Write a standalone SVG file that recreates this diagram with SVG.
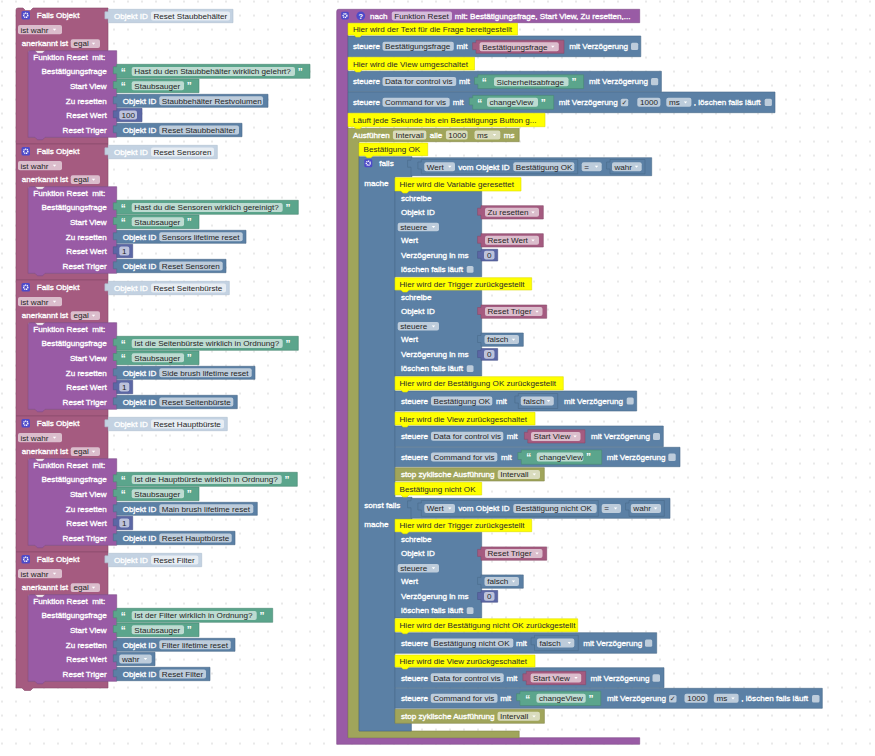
<svg xmlns="http://www.w3.org/2000/svg" xmlns:xlink="http://www.w3.org/1999/xlink" width="875" height="756" viewBox="0 0 875 756">
<defs>
<pattern id="dots" x="-5" y="-5.5" width="14" height="14" patternUnits="userSpaceOnUse"><circle cx="7" cy="7" r="0.85" fill="#d2d2d2"/></pattern>
<path id="ar" d="M-1.7,-0.9 h3.4 l-1.7,2 z" fill="#fff"/>
<style>
.t{font-family:"Liberation Sans",Arial,sans-serif;font-size:8.1px;fill:#fff;stroke:#fff;stroke-width:.32}
.d{font-family:"Liberation Sans",Arial,sans-serif;font-size:8.1px;fill:#1f1f1f}
.m{font-family:"Liberation Sans",Arial,sans-serif;font-size:8.1px;fill:#2a2a2a}
.q{font-family:"Liberation Sans",Arial,sans-serif;font-size:10px;font-weight:bold;fill:#fff}
.ck{font-family:"DejaVu Sans",sans-serif;font-size:7px;fill:#333}
.b{fill:#5b80a5;stroke:#4a6a8a;stroke-width:.6}
.n{fill:#5b67a5;stroke:#4a548a;stroke-width:.6}
.g{fill:#5ba58c;stroke:#4a8872;stroke-width:.6}
.k{fill:#a55b80;stroke:#884a69;stroke-width:.6}
.u{fill:#995ba5;stroke:#7d4a88;stroke-width:.6}
.o{fill:#a0a55b;stroke:#84884a;stroke-width:.6}
.c{fill:#ffff00;stroke:#dede00;stroke-width:.6}
.p{fill:#c3d2e2;stroke:#aebfd0;stroke-width:.6}
.f{fill:#fff;fill-opacity:.6}
.i{fill:#4d4ac9}
.gear{fill:none;stroke:#fff;stroke-width:1.4;stroke-dasharray:1.1 .55}
</style>
</defs>
<rect width="875" height="756" fill="#fff"/>
<rect width="875" height="756" fill="url(#dots)"/>

<!-- LEFT COLUMN: trigger blocks -->
<g id="falls-objekt-staubbehaelter">
<path class="k" d="M16,10 q0,-2 2,-2 H23 l2.5,2.5 h5 l2.5,-2.5 H108 V50.7 H28.3 V137.3 H108 V144 H16 Z"/>
<rect class="i" x="21.5" y="11" width="8.5" height="8.5" rx="1.5"/><circle class="gear" cx="25.75" cy="15.25" r="2.1"/>
<text class="t" x="36.7" y="18.3">Falls Objekt</text>
<path class="p" d="M108.3,9.3 H233 V22.7 H108.3 V18.8 h-3.4 v-7 h3.4 Z"/>
<text class="t" x="114" y="18.9">Objekt ID</text>
<rect class="f" x="151" y="11.5" width="79" height="9" rx="2"/><text class="d" x="153.4" y="18.9">Reset Staubbehälter</text>
<rect class="f" x="18" y="25" width="44" height="9.3" rx="2"/><text class="d" x="20.5" y="32.5">ist wahr</text><use href="#ar" x="54.5" y="29.7"/>
<text class="t" x="21.7" y="46.3">anerkannt ist</text>
<rect class="f" x="70.7" y="39.3" width="29.3" height="8.6" rx="2"/><text class="d" x="73.5" y="46.3">egal</text><use href="#ar" x="93.5" y="43.6"/>
<path class="u" d="M28.3,52.7 q0,-2 2,-2 H35 l2.5,2.5 h5 l2.5,-2.5 H116.7 V137.3 H45 l-2.5,2.5 h-5 l-2.5,-2.5 H28.3 Z"/>
<text class="t" x="33.3" y="60.3" style="white-space:pre">Funktion Reset  mit:</text>
<g text-anchor="end"><text class="t" x="106.7" y="74.4">Bestätigungsfrage</text><text class="t" x="106.7" y="88.7">Start View</text><text class="t" x="106.7" y="103.7">Zu resetten</text><text class="t" x="106.7" y="117.9">Reset Wert</text><text class="t" x="106.7" y="132.9">Reset Triger</text></g>
<path class="g" d="M116.7,64.3 H310 V78.3 H116.7 V73.8 h-3.4 v-7 h3.4 Z"/>
<text class="q" x="120.8" y="75.6">“</text><rect class="f" x="131.7" y="67" width="163.3" height="9" rx="2"/><text class="d" x="134.3" y="74.4">Hast du den Staubbehälter wirklich gelehrt?</text><text class="q" x="297.8" y="75.6">”</text>
<path class="g" d="M116.7,79 H199 V92.7 H116.7 V88.5 h-3.4 v-7 h3.4 Z"/>
<text class="q" x="120.8" y="89.9">“</text><rect class="f" x="131.7" y="81.3" width="52.3" height="9" rx="2"/><text class="d" x="134.3" y="88.7">Staubsauger</text><text class="q" x="186.8" y="89.9">”</text>
<path class="b" d="M116.7,94.3 H268 V107.3 H116.7 V103.8 h-3.4 v-7 h3.4 Z"/>
<text class="t" x="122.7" y="103.7">Objekt ID</text><rect class="f" x="159.3" y="96.3" width="103.7" height="9" rx="2"/><text class="d" x="161.8" y="103.7">Staubbehälter Restvolumen</text>
<path class="n" d="M116.7,108.3 H142 V121.7 H116.7 V117.8 h-3.4 v-7 h3.4 Z"/>
<rect class="f" x="119.3" y="110.5" width="17.7" height="9" rx="2"/><text class="d" x="121.6" y="117.9">100</text>
<path class="b" d="M116.7,123.3 H242 V136.7 H116.7 V132.8 h-3.4 v-7 h3.4 Z"/>
<text class="t" x="122.7" y="132.9">Objekt ID</text><rect class="f" x="159.3" y="125.5" width="79.7" height="9" rx="2"/><text class="d" x="161.8" y="132.9">Reset Staubbehälter</text>
</g>

<g id="falls-objekt-sensoren" transform="translate(0,136)">
<path class="k" d="M16,8 H108 V50.7 H28.3 V137.3 H108 V144 H16 Z"/>
<rect class="i" x="21.5" y="11" width="8.5" height="8.5" rx="1.5"/><circle class="gear" cx="25.75" cy="15.25" r="2.1"/>
<text class="t" x="36.7" y="18.3">Falls Objekt</text>
<path class="p" d="M108.3,9.3 H217.3 V22.7 H108.3 V18.8 h-3.4 v-7 h3.4 Z"/>
<text class="t" x="114" y="18.9">Objekt ID</text>
<rect class="f" x="151" y="11.5" width="63" height="9" rx="2"/><text class="d" x="153.4" y="18.9">Reset Sensoren</text>
<rect class="f" x="18" y="25" width="44" height="9.3" rx="2"/><text class="d" x="20.5" y="32.5">ist wahr</text><use href="#ar" x="54.5" y="29.7"/>
<text class="t" x="21.7" y="46.3">anerkannt ist</text>
<rect class="f" x="70.7" y="39.3" width="29.3" height="8.6" rx="2"/><text class="d" x="73.5" y="46.3">egal</text><use href="#ar" x="93.5" y="43.6"/>
<path class="u" d="M28.3,52.7 q0,-2 2,-2 H35 l2.5,2.5 h5 l2.5,-2.5 H116.7 V137.3 H45 l-2.5,2.5 h-5 l-2.5,-2.5 H28.3 Z"/>
<text class="t" x="33.3" y="60.3" style="white-space:pre">Funktion Reset  mit:</text>
<g text-anchor="end"><text class="t" x="106.7" y="74.4">Bestätigungsfrage</text><text class="t" x="106.7" y="88.7">Start View</text><text class="t" x="106.7" y="103.7">Zu resetten</text><text class="t" x="106.7" y="117.9">Reset Wert</text><text class="t" x="106.7" y="132.9">Reset Triger</text></g>
<path class="g" d="M116.7,64.3 H298.3 V78.3 H116.7 V73.8 h-3.4 v-7 h3.4 Z"/>
<text class="q" x="120.8" y="75.6">“</text><rect class="f" x="131.7" y="67" width="151" height="9" rx="2"/><text class="d" x="134.3" y="74.4">Hast du die Sensoren wirklich gereinigt?</text><text class="q" x="285.5" y="75.6">”</text>
<path class="g" d="M116.7,79 H199 V92.7 H116.7 V88.5 h-3.4 v-7 h3.4 Z"/>
<text class="q" x="120.8" y="89.9">“</text><rect class="f" x="131.7" y="81.3" width="52.3" height="9" rx="2"/><text class="d" x="134.3" y="88.7">Staubsauger</text><text class="q" x="186.8" y="89.9">”</text>
<path class="b" d="M116.7,94.3 H246 V107.3 H116.7 V103.8 h-3.4 v-7 h3.4 Z"/>
<text class="t" x="122.7" y="103.7">Objekt ID</text><rect class="f" x="159.3" y="96.3" width="83.4" height="9" rx="2"/><text class="d" x="161.8" y="103.7">Sensors lifetime reset</text>
<path class="n" d="M116.7,108.3 H132.7 V121.7 H116.7 V117.8 h-3.4 v-7 h3.4 Z"/>
<rect class="f" x="119.3" y="110.5" width="10" height="9" rx="2"/><text class="d" x="122" y="117.9">1</text>
<path class="b" d="M116.7,123.3 H226 V136.7 H116.7 V132.8 h-3.4 v-7 h3.4 Z"/>
<text class="t" x="122.7" y="132.9">Objekt ID</text><rect class="f" x="159.3" y="125.5" width="63.4" height="9" rx="2"/><text class="d" x="161.8" y="132.9">Reset Sensoren</text>
</g>

<g id="falls-objekt-seitenbuerste" transform="translate(0,272)">
<path class="k" d="M16,8 H108 V50.7 H28.3 V137.3 H108 V144 H16 Z"/>
<rect class="i" x="21.5" y="11" width="8.5" height="8.5" rx="1.5"/><circle class="gear" cx="25.75" cy="15.25" r="2.1"/>
<text class="t" x="36.7" y="18.3">Falls Objekt</text>
<path class="p" d="M108.3,9.3 H229.3 V22.7 H108.3 V18.8 h-3.4 v-7 h3.4 Z"/>
<text class="t" x="114" y="18.9">Objekt ID</text>
<rect class="f" x="151" y="11.5" width="75" height="9" rx="2"/><text class="d" x="153.4" y="18.9">Reset Seitenbürste</text>
<rect class="f" x="18" y="25" width="44" height="9.3" rx="2"/><text class="d" x="20.5" y="32.5">ist wahr</text><use href="#ar" x="54.5" y="29.7"/>
<text class="t" x="21.7" y="46.3">anerkannt ist</text>
<rect class="f" x="70.7" y="39.3" width="29.3" height="8.6" rx="2"/><text class="d" x="73.5" y="46.3">egal</text><use href="#ar" x="93.5" y="43.6"/>
<path class="u" d="M28.3,52.7 q0,-2 2,-2 H35 l2.5,2.5 h5 l2.5,-2.5 H116.7 V137.3 H45 l-2.5,2.5 h-5 l-2.5,-2.5 H28.3 Z"/>
<text class="t" x="33.3" y="60.3" style="white-space:pre">Funktion Reset  mit:</text>
<g text-anchor="end"><text class="t" x="106.7" y="74.4">Bestätigungsfrage</text><text class="t" x="106.7" y="88.7">Start View</text><text class="t" x="106.7" y="103.7">Zu resetten</text><text class="t" x="106.7" y="117.9">Reset Wert</text><text class="t" x="106.7" y="132.9">Reset Triger</text></g>
<path class="g" d="M116.7,64.3 H298.3 V78.3 H116.7 V73.8 h-3.4 v-7 h3.4 Z"/>
<text class="q" x="120.8" y="75.6">“</text><rect class="f" x="131.7" y="67" width="151" height="9" rx="2"/><text class="d" x="134.3" y="74.4">Ist die Seitenbürste wirklich in Ordnung?</text><text class="q" x="285.5" y="75.6">”</text>
<path class="g" d="M116.7,79 H199 V92.7 H116.7 V88.5 h-3.4 v-7 h3.4 Z"/>
<text class="q" x="120.8" y="89.9">“</text><rect class="f" x="131.7" y="81.3" width="52.3" height="9" rx="2"/><text class="d" x="134.3" y="88.7">Staubsauger</text><text class="q" x="186.8" y="89.9">”</text>
<path class="b" d="M116.7,94.3 H255 V107.3 H116.7 V103.8 h-3.4 v-7 h3.4 Z"/>
<text class="t" x="122.7" y="103.7">Objekt ID</text><rect class="f" x="159.3" y="96.3" width="92.4" height="9" rx="2"/><text class="d" x="161.8" y="103.7">Side brush lifetime reset</text>
<path class="n" d="M116.7,108.3 H132.7 V121.7 H116.7 V117.8 h-3.4 v-7 h3.4 Z"/>
<rect class="f" x="119.3" y="110.5" width="10" height="9" rx="2"/><text class="d" x="122" y="117.9">1</text>
<path class="b" d="M116.7,123.3 H237.3 V136.7 H116.7 V132.8 h-3.4 v-7 h3.4 Z"/>
<text class="t" x="122.7" y="132.9">Objekt ID</text><rect class="f" x="159.3" y="125.5" width="74" height="9" rx="2"/><text class="d" x="161.8" y="132.9">Reset Seitenbürste</text>
</g>

<g id="falls-objekt-hauptbuerste" transform="translate(0,408)">
<path class="k" d="M16,8 H108 V50.7 H28.3 V137.3 H108 V144 H16 Z"/>
<rect class="i" x="21.5" y="11" width="8.5" height="8.5" rx="1.5"/><circle class="gear" cx="25.75" cy="15.25" r="2.1"/>
<text class="t" x="36.7" y="18.3">Falls Objekt</text>
<path class="p" d="M108.3,9.3 H227.3 V22.7 H108.3 V18.8 h-3.4 v-7 h3.4 Z"/>
<text class="t" x="114" y="18.9">Objekt ID</text>
<rect class="f" x="151" y="11.5" width="73" height="9" rx="2"/><text class="d" x="153.4" y="18.9">Reset Hauptbürste</text>
<rect class="f" x="18" y="25" width="44" height="9.3" rx="2"/><text class="d" x="20.5" y="32.5">ist wahr</text><use href="#ar" x="54.5" y="29.7"/>
<text class="t" x="21.7" y="46.3">anerkannt ist</text>
<rect class="f" x="70.7" y="39.3" width="29.3" height="8.6" rx="2"/><text class="d" x="73.5" y="46.3">egal</text><use href="#ar" x="93.5" y="43.6"/>
<path class="u" d="M28.3,52.7 q0,-2 2,-2 H35 l2.5,2.5 h5 l2.5,-2.5 H116.7 V137.3 H45 l-2.5,2.5 h-5 l-2.5,-2.5 H28.3 Z"/>
<text class="t" x="33.3" y="60.3" style="white-space:pre">Funktion Reset  mit:</text>
<g text-anchor="end"><text class="t" x="106.7" y="74.4">Bestätigungsfrage</text><text class="t" x="106.7" y="88.7">Start View</text><text class="t" x="106.7" y="103.7">Zu resetten</text><text class="t" x="106.7" y="117.9">Reset Wert</text><text class="t" x="106.7" y="132.9">Reset Triger</text></g>
<path class="g" d="M116.7,64.3 H297.3 V78.3 H116.7 V73.8 h-3.4 v-7 h3.4 Z"/>
<text class="q" x="120.8" y="75.6">“</text><rect class="f" x="131.7" y="67" width="150" height="9" rx="2"/><text class="d" x="134.3" y="74.4">Ist die Hauptbürste wirklich in Ordnung?</text><text class="q" x="284.5" y="75.6">”</text>
<path class="g" d="M116.7,79 H199 V92.7 H116.7 V88.5 h-3.4 v-7 h3.4 Z"/>
<text class="q" x="120.8" y="89.9">“</text><rect class="f" x="131.7" y="81.3" width="52.3" height="9" rx="2"/><text class="d" x="134.3" y="88.7">Staubsauger</text><text class="q" x="186.8" y="89.9">”</text>
<path class="b" d="M116.7,94.3 H257.3 V107.3 H116.7 V103.8 h-3.4 v-7 h3.4 Z"/>
<text class="t" x="122.7" y="103.7">Objekt ID</text><rect class="f" x="159.3" y="96.3" width="94" height="9" rx="2"/><text class="d" x="161.8" y="103.7">Main brush lifetime reset</text>
<path class="n" d="M116.7,108.3 H132.7 V121.7 H116.7 V117.8 h-3.4 v-7 h3.4 Z"/>
<rect class="f" x="119.3" y="110.5" width="10" height="9" rx="2"/><text class="d" x="122" y="117.9">1</text>
<path class="b" d="M116.7,123.3 H235 V136.7 H116.7 V132.8 h-3.4 v-7 h3.4 Z"/>
<text class="t" x="122.7" y="132.9">Objekt ID</text><rect class="f" x="159.3" y="125.5" width="72.4" height="9" rx="2"/><text class="d" x="161.8" y="132.9">Reset Hauptbürste</text>
</g>

<g id="falls-objekt-filter" transform="translate(0,544)">
<path class="k" d="M16,8 H108 V50.7 H28.3 V137.3 H108 V144 H33 l-2.5,2.5 h-6 l-2.5,-2.5 H16 Z"/>
<rect class="i" x="21.5" y="11" width="8.5" height="8.5" rx="1.5"/><circle class="gear" cx="25.75" cy="15.25" r="2.1"/>
<text class="t" x="36.7" y="18.3">Falls Objekt</text>
<path class="p" d="M108.3,9.3 H201.7 V22.7 H108.3 V18.8 h-3.4 v-7 h3.4 Z"/>
<text class="t" x="114" y="18.9">Objekt ID</text>
<rect class="f" x="151" y="11.5" width="47.3" height="9" rx="2"/><text class="d" x="153.4" y="18.9">Reset Filter</text>
<rect class="f" x="18" y="25" width="44" height="9.3" rx="2"/><text class="d" x="20.5" y="32.5">ist wahr</text><use href="#ar" x="54.5" y="29.7"/>
<text class="t" x="21.7" y="46.3">anerkannt ist</text>
<rect class="f" x="70.7" y="39.3" width="29.3" height="8.6" rx="2"/><text class="d" x="73.5" y="46.3">egal</text><use href="#ar" x="93.5" y="43.6"/>
<path class="u" d="M28.3,52.7 q0,-2 2,-2 H35 l2.5,2.5 h5 l2.5,-2.5 H116.7 V137.3 H45 l-2.5,2.5 h-5 l-2.5,-2.5 H28.3 Z"/>
<text class="t" x="33.3" y="60.3" style="white-space:pre">Funktion Reset  mit:</text>
<g text-anchor="end"><text class="t" x="106.7" y="74.4">Bestätigungsfrage</text><text class="t" x="106.7" y="88.7">Start View</text><text class="t" x="106.7" y="103.7">Zu resetten</text><text class="t" x="106.7" y="117.9">Reset Wert</text><text class="t" x="106.7" y="132.9">Reset Triger</text></g>
<path class="g" d="M116.7,64.3 H272.7 V78.3 H116.7 V73.8 h-3.4 v-7 h3.4 Z"/>
<text class="q" x="120.8" y="75.6">“</text><rect class="f" x="131.7" y="67" width="125" height="9" rx="2"/><text class="d" x="134.3" y="74.4">Ist der Filter wirklich in Ordnung?</text><text class="q" x="259.5" y="75.6">”</text>
<path class="g" d="M116.7,79 H199 V92.7 H116.7 V88.5 h-3.4 v-7 h3.4 Z"/>
<text class="q" x="120.8" y="89.9">“</text><rect class="f" x="131.7" y="81.3" width="52.3" height="9" rx="2"/><text class="d" x="134.3" y="88.7">Staubsauger</text><text class="q" x="186.8" y="89.9">”</text>
<path class="b" d="M116.7,94.3 H235 V107.3 H116.7 V103.8 h-3.4 v-7 h3.4 Z"/>
<text class="t" x="122.7" y="103.7">Objekt ID</text><rect class="f" x="159.3" y="96.3" width="71.4" height="9" rx="2"/><text class="d" x="161.8" y="103.7">Filter lifetime reset</text>
<path class="b" d="M116.7,108.3 H155 V121.7 H116.7 V117.8 h-3.4 v-7 h3.4 Z"/>
<rect class="f" x="119.3" y="110.5" width="32.4" height="9" rx="2"/><text class="d" x="122" y="117.9">wahr</text><use href="#ar" x="145.5" y="115"/>
<path class="b" d="M116.7,123.3 H210 V136.7 H116.7 V132.8 h-3.4 v-7 h3.4 Z"/>
<text class="t" x="122.7" y="132.9">Objekt ID</text><rect class="f" x="159.3" y="125.5" width="46.7" height="9" rx="2"/><text class="d" x="161.8" y="132.9">Reset Filter</text>
</g>

<!-- RIGHT COLUMN: procedure definition -->
<g id="nach-funktion-reset">
<path class="u" d="M336.7,11.3 q0,-2 2,-2 H639.7 V22.7 H348 V737.7 H639.7 V744.3 H336.7 Z"/>
<rect class="i" x="341.2" y="11.8" width="7.6" height="7.6" rx="1.4"/><circle class="gear" cx="345" cy="15.6" r="1.9"/>
<circle class="i" cx="360.8" cy="15.8" r="4.4"/><text x="360.8" y="18.5" text-anchor="middle" style="font-family:'Liberation Sans',Arial,sans-serif;font-size:7.5px;font-weight:bold;fill:#fff">?</text>
<text class="t" x="370" y="18.9">nach</text>
<rect class="f" x="391.8" y="11.5" width="60.2" height="9" rx="2"/><text class="d" x="394.3" y="18.9">Funktion Reset</text>
<text class="t" x="454.8" y="18.9">mit: Bestätigungsfrage, Start View, Zu resetten,...</text>
</g>

<g id="steuere-bestaetigungsfrage">
<path class="b" d="M348,36 H640.8 V56.7 H348 Z"/>
<text class="t" x="352.9" y="49.2">steuere</text>
<rect class="f" x="382.5" y="41.8" width="71.3" height="9" rx="2"/><text class="d" x="385" y="49.2">Bestätigungsfrage</text>
<text class="t" x="456.6" y="49.2">mit</text>
<path class="k" d="M476,40.2 H564 V53.3 H476 V49.7 h-3.4 v-7 h3.4 Z"/>
<rect class="f" x="479.6" y="42.2" width="79.2" height="9" rx="2"/><text class="d" x="482.2" y="49.5">Bestätigungsfrage</text><use href="#ar" x="552.8" y="46.7"/>
<text class="t" x="569.2" y="49.2">mit Verzögerung</text>
<rect class="f" x="631" y="42.8" width="7.2" height="7.2" rx="1.5"/>
</g>

<g id="steuere-data-for-control-vis-1">
<path class="b" d="M348,71.3 H661.4 V91.7 H348 Z"/>
<text class="t" x="352.9" y="84.4">steuere</text>
<rect class="f" x="382.5" y="77" width="73.7" height="9" rx="2"/><text class="d" x="385" y="84.4">Data for control vis</text>
<text class="t" x="459" y="84.4">mit</text>
<path class="g" d="M477.9,74.8 H583.6 V88.6 H477.9 V84.3 h-3.4 v-7 h3.4 Z"/>
<text class="q" x="481.8" y="85.7">“</text><rect class="f" x="494" y="77.2" width="74.5" height="9" rx="2"/><text class="d" x="496.5" y="84.5">Sicherheitsabfrage</text><text class="q" x="571.5" y="85.7">”</text>
<text class="t" x="589" y="84.4">mit Verzögerung</text>
<rect class="f" x="651" y="78" width="7.2" height="7.2" rx="1.5"/>
</g>

<g id="steuere-command-for-vis-1">
<path class="b" d="M348,92 H775 V112.7 H348 Z"/>
<text class="t" x="352.9" y="105.2">steuere</text>
<rect class="f" x="382.5" y="97.8" width="67.2" height="9" rx="2"/><text class="d" x="385" y="105.2">Command for vis</text>
<text class="t" x="452.8" y="105.2">mit</text>
<path class="g" d="M472.7,95.4 H553.7 V109.3 H472.7 V104.9 h-3.4 v-7 h3.4 Z"/>
<text class="q" x="477.3" y="106.5">“</text><rect class="f" x="487" y="97.8" width="51" height="9" rx="2"/><text class="d" x="489.5" y="105.2">changeView</text><text class="q" x="540.8" y="106.5">”</text>
<text class="t" x="558.8" y="105.2">mit Verzögerung</text>
<rect class="f" x="620.8" y="98.8" width="7.4" height="7.4" rx="1.5"/><text class="ck" x="621.5" y="105">✓</text>
<rect class="f" x="637.3" y="97.8" width="23.1" height="9" rx="2"/><text class="d" x="640" y="105.2">1000</text>
<rect class="f" x="666.3" y="97.8" width="25.1" height="9" rx="2"/><text class="d" x="669" y="105.2">ms</text><use href="#ar" x="685.5" y="102.3"/>
<text class="t" x="693.8" y="105.2">, löschen falls läuft</text>
<rect class="f" x="764.7" y="98.8" width="7.2" height="7.2" rx="1.5"/>
</g>

<g id="ausfuehren-intervall">
<path class="o" d="M348,128.3 H519.2 V141.7 H359 V731 H519.2 V737.7 H348 Z"/>
<text class="t" x="352.9" y="137.9">Ausführen</text>
<rect class="f" x="392.9" y="130.5" width="33.4" height="9" rx="2"/><text class="d" x="395.4" y="137.9">Intervall</text>
<text class="t" x="429.7" y="137.9">alle</text>
<rect class="f" x="445.9" y="130.5" width="21.7" height="9" rx="2"/><text class="d" x="448.2" y="137.9">1000</text>
<rect class="f" x="474.5" y="130.5" width="25.8" height="9" rx="2"/><text class="d" x="477" y="137.9">ms</text><use href="#ar" x="494.5" y="135"/>
<text class="t" x="503.7" y="137.9">ms</text>
</g>

<g id="falls-bestaetigung">
<path class="b" d="M359,156.7 H412 V176.7 H395 V497.3 H412 V519.3 H395 V723.3 H411.4 V731 H359 Z"/>
<rect class="i" x="364.3" y="159.2" width="8" height="8" rx="1.4"/><circle class="gear" cx="368.3" cy="163.2" r="2"/>
<text class="t" x="379.3" y="166.2">falls</text>
<text class="t" x="364.3" y="186.2">mache</text>
<path class="b" d="M411,157.7 H651.7 V175.7 H411 V167.2 h-3.4 v-7 h3.4 Z"/>
<path class="b" d="M421.3,159.5 H577.7 V173.8 H421.3 V169 h-3.4 v-7 h3.4 Z"/>
<rect class="f" x="424.3" y="162.2" width="30.7" height="9" rx="2"/><text class="d" x="426.8" y="169.6">Wert</text><use href="#ar" x="449.8" y="166.7"/>
<text class="t" x="458.3" y="169.6">vom Objekt ID</text>
<rect class="f" x="513.3" y="162.2" width="61" height="9" rx="2"/><text class="d" x="515.8" y="169.6">Bestätigung OK</text>
<rect class="f" x="581.7" y="162.2" width="20" height="9" rx="2"/><text class="d" x="584.3" y="169.6">=</text><use href="#ar" x="596.5" y="166.7"/>
<path class="b" d="M610,159.5 H645 V173.8 H610 V169 h-3.4 v-7 h3.4 Z"/>
<rect class="f" x="612" y="162.2" width="29.7" height="9" rx="2"/><text class="d" x="614.5" y="169.6">wahr</text><use href="#ar" x="636.5" y="166.7"/>
<text class="t" x="364.3" y="507.9">sonst falls</text>
<text class="t" x="364.3" y="527.2">mache</text>
<path class="b" d="M411,498.3 H670 V518.3 H411 V507.8 h-3.4 v-7 h3.4 Z"/>
<path class="b" d="M421.3,500.5 H598.3 V516.3 H421.3 V510 h-3.4 v-7 h3.4 Z"/>
<rect class="f" x="424.3" y="504" width="30.7" height="9" rx="2"/><text class="d" x="426.8" y="511.4">Wert</text><use href="#ar" x="449.8" y="508.5"/>
<text class="t" x="458.3" y="511.4">vom Objekt ID</text>
<rect class="f" x="513.3" y="504" width="83.4" height="9" rx="2"/><text class="d" x="515.8" y="511.4">Bestätigung nicht OK</text>
<rect class="f" x="601.7" y="504" width="19.3" height="9" rx="2"/><text class="d" x="604.3" y="511.4">=</text><use href="#ar" x="615.6" y="508.5"/>
<path class="b" d="M629,500.5 H664.3 V516.3 H629 V510 h-3.4 v-7 h3.4 Z"/>
<rect class="f" x="630.8" y="504" width="30.2" height="9" rx="2"/><text class="d" x="633.3" y="511.4">wahr</text><use href="#ar" x="655.6" y="508.5"/>
</g>

<g id="schreibe-zu-resetten">
<path class="b" d="M395,191 H481.7 V276.7 H395 Z"/>
<text class="t" x="401" y="200.6">schreibe</text>
<text class="t" x="401" y="215.2">Objekt ID</text>
<path class="k" d="M481,205.7 H543.3 V219 H481 V215.2 h-3.4 v-7 h3.4 Z"/>
<rect class="f" x="485" y="207.8" width="54" height="9" rx="2"/><text class="d" x="487.5" y="215.2">Zu resetten</text><use href="#ar" x="533" y="212.3"/>
<rect class="f" x="397.7" y="222.7" width="41.3" height="8.6" rx="2"/><text class="d" x="400.3" y="229.9">steuere</text><use href="#ar" x="433.5" y="227"/>
<text class="t" x="401" y="243.2">Wert</text>
<path class="k" d="M481,233.7 H543.3 V247 H481 V243.2 h-3.4 v-7 h3.4 Z"/>
<rect class="f" x="485" y="235.8" width="54" height="9" rx="2"/><text class="d" x="487.5" y="243.2">Reset Wert</text><use href="#ar" x="533" y="240.3"/>
<text class="t" x="401" y="257.9">Verzögerung in ms</text>
<path class="n" d="M481,249.3 H497.7 V261 H481 V258.3 h-3.4 v-7 h3.4 Z"/>
<rect class="f" x="484" y="250.8" width="10.5" height="8.7" rx="2"/><text class="d" x="486.9" y="257.9">0</text>
<text class="t" x="401" y="272.2">löschen falls läuft</text>
<rect class="f" x="466.7" y="266" width="6.8" height="6.8" rx="1.5"/>
</g>

<g id="schreibe-reset-triger-1" transform="translate(0,99.3)">
<path class="b" d="M395,191 H481.7 V276.7 H395 Z"/>
<text class="t" x="401" y="200.6">schreibe</text>
<text class="t" x="401" y="215.2">Objekt ID</text>
<path class="k" d="M481,205.7 H546.7 V219 H481 V215.2 h-3.4 v-7 h3.4 Z"/>
<rect class="f" x="485" y="207.8" width="57.5" height="9" rx="2"/><text class="d" x="487.5" y="215.2">Reset Triger</text><use href="#ar" x="537" y="212.3"/>
<rect class="f" x="397.7" y="222.7" width="41.3" height="8.6" rx="2"/><text class="d" x="400.3" y="229.9">steuere</text><use href="#ar" x="433.5" y="227"/>
<text class="t" x="401" y="243.2">Wert</text>
<path class="b" d="M481,233.7 H523.3 V247 H481 V243.2 h-3.4 v-7 h3.4 Z"/>
<rect class="f" x="484.5" y="235.8" width="34.5" height="9" rx="2"/><text class="d" x="487.2" y="243.2">falsch</text><use href="#ar" x="513.5" y="240.3"/>
<text class="t" x="401" y="257.9">Verzögerung in ms</text>
<path class="n" d="M481,249.3 H497.7 V261 H481 V258.3 h-3.4 v-7 h3.4 Z"/>
<rect class="f" x="484" y="250.8" width="10.5" height="8.7" rx="2"/><text class="d" x="486.9" y="257.9">0</text>
<text class="t" x="401" y="272.2">löschen falls läuft</text>
<rect class="f" x="466.7" y="266" width="6.8" height="6.8" rx="1.5"/>
</g>

<g id="steuere-bestaetigung-ok">
<path class="b" d="M395,391 H636.7 V411 H395 Z"/>
<text class="t" x="401" y="403.9">steuere</text>
<rect class="f" x="431" y="396.5" width="61.3" height="9" rx="2"/><text class="d" x="433.5" y="403.9">Bestätigung OK</text>
<text class="t" x="496" y="403.9">mit</text>
<path class="b" d="M518.3,393.5 H557.7 V408.5 H518.3 V403 h-3.4 v-7 h3.4 Z"/>
<rect class="f" x="520.8" y="396.5" width="33" height="9" rx="2"/><text class="d" x="523.3" y="403.9">falsch</text><use href="#ar" x="548.5" y="401"/>
<text class="t" x="564" y="403.9">mit Verzögerung</text>
<rect class="f" x="626.7" y="397.6" width="7" height="7" rx="1.5"/>
</g>

<g id="steuere-data-for-control-vis-2">
<path class="b" d="M395,426 H663.3 V446.7 H395 Z"/>
<text class="t" x="401" y="439.2">steuere</text>
<rect class="f" x="431" y="431.8" width="72.3" height="9" rx="2"/><text class="d" x="433.5" y="439.2">Data for control vis</text>
<text class="t" x="506.7" y="439.2">mit</text>
<path class="k" d="M527.8,429.8 H585 V443 H527.8 V439.3 h-3.4 v-7 h3.4 Z"/>
<rect class="f" x="531" y="431.9" width="49.5" height="9" rx="2"/><text class="d" x="533.5" y="439.3">Start View</text><use href="#ar" x="575" y="436.4"/>
<text class="t" x="591" y="439.2">mit Verzögerung</text>
<rect class="f" x="653" y="432.9" width="7" height="7" rx="1.5"/>
</g>

<g id="steuere-command-for-vis-2">
<path class="b" d="M395,447.3 H680 V466.7 H395 Z"/>
<text class="t" x="401" y="459.9">steuere</text>
<rect class="f" x="431" y="452.5" width="66.3" height="9" rx="2"/><text class="d" x="433.5" y="459.9">Command for vis</text>
<text class="t" x="501" y="459.9">mit</text>
<path class="g" d="M521.3,450 H601.7 V464.3 H521.3 V459.5 h-3.4 v-7 h3.4 Z"/>
<text class="q" x="526.3" y="461.2">“</text><rect class="f" x="536.7" y="452.6" width="46.6" height="9" rx="2"/><text class="d" x="539.2" y="459.9">changeView</text><text class="q" x="586" y="461.2">”</text>
<text class="t" x="606.7" y="459.9">mit Verzögerung</text>
<rect class="f" x="668.3" y="453.6" width="7.4" height="7.4" rx="1.5"/>
</g>

<g id="stop-intervall-1">
<path class="o" d="M395,467.7 H544.3 V481 H395 Z"/>
<text class="t" x="401" y="477.2">stop zyklische Ausführung</text>
<rect class="f" x="497.7" y="469.9" width="42.3" height="9" rx="2"/><text class="d" x="500.3" y="477.2">Intervall</text><use href="#ar" x="534.3" y="474.3"/>
</g>

<g id="schreibe-reset-triger-2" transform="translate(0,341.2)">
<path class="b" d="M395,191 H481.7 V276.7 H395 Z"/>
<text class="t" x="401" y="200.6">schreibe</text>
<text class="t" x="401" y="215.2">Objekt ID</text>
<path class="k" d="M481,205.7 H546.7 V219 H481 V215.2 h-3.4 v-7 h3.4 Z"/>
<rect class="f" x="485" y="207.8" width="57.5" height="9" rx="2"/><text class="d" x="487.5" y="215.2">Reset Triger</text><use href="#ar" x="537" y="212.3"/>
<rect class="f" x="397.7" y="222.7" width="41.3" height="8.6" rx="2"/><text class="d" x="400.3" y="229.9">steuere</text><use href="#ar" x="433.5" y="227"/>
<text class="t" x="401" y="243.2">Wert</text>
<path class="b" d="M481,233.7 H523.3 V247 H481 V243.2 h-3.4 v-7 h3.4 Z"/>
<rect class="f" x="484.5" y="235.8" width="34.5" height="9" rx="2"/><text class="d" x="487.2" y="243.2">falsch</text><use href="#ar" x="513.5" y="240.3"/>
<text class="t" x="401" y="257.9">Verzögerung in ms</text>
<path class="n" d="M481,249.3 H497.7 V261 H481 V258.3 h-3.4 v-7 h3.4 Z"/>
<rect class="f" x="484" y="250.8" width="10.5" height="8.7" rx="2"/><text class="d" x="486.9" y="257.9">0</text>
<text class="t" x="401" y="272.2">löschen falls läuft</text>
<rect class="f" x="466.7" y="266" width="6.8" height="6.8" rx="1.5"/>
</g>

<g id="steuere-bestaetigung-nicht-ok">
<path class="b" d="M395,632.7 H656.7 V653.3 H395 Z"/>
<text class="t" x="401" y="645.9">steuere</text>
<rect class="f" x="431" y="638.5" width="82.3" height="9" rx="2"/><text class="d" x="433.5" y="645.9">Bestätigung nicht OK</text>
<text class="t" x="516" y="645.9">mit</text>
<path class="b" d="M534.5,635.3 H578.3 V650.7 H534.5 V644.8 h-3.4 v-7 h3.4 Z"/>
<rect class="f" x="537" y="638.5" width="37.3" height="9" rx="2"/><text class="d" x="539.5" y="645.9">falsch</text><use href="#ar" x="569.3" y="643"/>
<text class="t" x="583.3" y="645.9">mit Verzögerung</text>
<rect class="f" x="645" y="639.6" width="7.2" height="7.2" rx="1.5"/>
</g>

<g id="steuere-data-for-control-vis-3">
<path class="b" d="M395,667.7 H664 V687.7 H395 Z"/>
<text class="t" x="401" y="680.6">steuere</text>
<rect class="f" x="430.7" y="673.2" width="73" height="9" rx="2"/><text class="d" x="433.2" y="680.6">Data for control vis</text>
<text class="t" x="506.5" y="680.6">mit</text>
<path class="k" d="M526.3,671.3 H585.7 V684.7 H526.3 V680.8 h-3.4 v-7 h3.4 Z"/>
<rect class="f" x="530.6" y="673.5" width="50.6" height="9" rx="2"/><text class="d" x="533.1" y="680.8">Start View</text><use href="#ar" x="576" y="678"/>
<text class="t" x="590.5" y="680.6">mit Verzögerung</text>
<rect class="f" x="652.5" y="674.3" width="7.5" height="7.5" rx="1.5"/>
</g>

<g id="steuere-command-for-vis-3">
<path class="b" d="M395,688.3 H822.3 V708.3 H395 Z"/>
<text class="t" x="401" y="701.2">steuere</text>
<rect class="f" x="430.7" y="693.8" width="66.8" height="9" rx="2"/><text class="d" x="433.2" y="701.2">Command for vis</text>
<text class="t" x="500.3" y="701.2">mit</text>
<path class="g" d="M520,691.2 H600.8 V705.5 H520 V700.7 h-3.4 v-7 h3.4 Z"/>
<text class="q" x="525.3" y="702.5">“</text><rect class="f" x="536.4" y="693.8" width="49.3" height="9" rx="2"/><text class="d" x="538.9" y="701.2">changeView</text><text class="q" x="588.5" y="702.5">”</text>
<text class="t" x="607" y="701.2">mit Verzögerung</text>
<rect class="f" x="669" y="694.9" width="7.5" height="7.5" rx="1.5"/><text class="ck" x="669.8" y="701.1">✓</text>
<rect class="f" x="684.5" y="693.8" width="23.1" height="9" rx="2"/><text class="d" x="687.2" y="701.2">1000</text>
<rect class="f" x="713.8" y="693.8" width="24.8" height="9" rx="2"/><text class="d" x="716.5" y="701.2">ms</text><use href="#ar" x="733" y="698.3"/>
<text class="t" x="741.3" y="701.2">, löschen falls läuft</text>
<rect class="f" x="812" y="694.9" width="7.5" height="7.5" rx="1.5"/>
</g>

<g id="stop-intervall-2">
<path class="o" d="M395,709.3 H544.4 V723.3 H395 Z"/>
<text class="t" x="401" y="719.2">stop zyklische Ausführung</text>
<rect class="f" x="497.5" y="711.8" width="42.4" height="9" rx="2"/><text class="d" x="500" y="719.2">Intervall</text><use href="#ar" x="534" y="716.3"/>
</g>

<!-- comments -->
<g id="kommentar-1"><path class="c" d="M348,23.3 H517.5 V35 H362 l-2,2 h-4 l-2,-2 H348 Z"/><text class="m" x="352.9" y="32.1">Hier wird der Text für die Frage bereitgestellt</text></g>
<g id="kommentar-2"><path class="c" d="M348,57.3 H474.5 V70 H362 l-2,2 h-4 l-2,-2 H348 Z"/><text class="m" x="352.9" y="66.6">Hier wird die View umgeschaltet</text></g>
<g id="kommentar-3"><path class="c" d="M348,113.3 H545 V126.7 H362 l-2,2 h-4 l-2,-2 H348 Z"/><text class="m" x="352.9" y="122.9">Läuft jede Sekunde bis ein Bestätigungs Button g...</text></g>
<g id="kommentar-4"><path class="c" d="M359,143 H427.7 V155.7 H373 l-2,2 h-4 l-2,-2 H359 Z"/><text class="m" x="363.5" y="152.2">Bestätigung OK</text></g>
<g id="kommentar-5"><path class="c" d="M395,177.7 H521 V191 H409 l-2,2 h-4 l-2,-2 H395 Z"/><text class="m" x="399.5" y="187.2">Hier wird die Variable geresettet</text></g>
<g id="kommentar-6"><path class="c" d="M395,277.7 H531.7 V290 H409 l-2,2 h-4 l-2,-2 H395 Z"/><text class="m" x="399.5" y="286.8">Hier wird der Trigger zurückgestellt</text></g>
<g id="kommentar-7"><path class="c" d="M395,376.7 H563.3 V390 H409 l-2,2 h-4 l-2,-2 H395 Z"/><text class="m" x="399.5" y="386.2">Hier wird der Bestätigung OK zurückgestellt</text></g>
<g id="kommentar-8"><path class="c" d="M395,412.3 H535 V425 H409 l-2,2 h-4 l-2,-2 H395 Z"/><text class="m" x="399.5" y="421.6">Hier wird die View zurückgeschaltet</text></g>
<g id="kommentar-9"><path class="c" d="M395,482.3 H481.7 V495 H409 l-2,2 h-4 l-2,-2 H395 Z"/><text class="m" x="399.5" y="491.6">Bestätigung nicht OK</text></g>
<g id="kommentar-10"><path class="c" d="M395,519.3 H531.7 V531.7 H409 l-2,2 h-4 l-2,-2 H395 Z"/><text class="m" x="399.5" y="528.4">Hier wird der Trigger zurückgestellt</text></g>
<g id="kommentar-11"><path class="c" d="M395,618.8 H577.7 V631.7 H409 l-2,2 h-4 l-2,-2 H395 Z"/><text class="m" x="399.5" y="628.4">Hier wird der Bestätigung nicht OK zurückgestellt</text></g>
<g id="kommentar-12"><path class="c" d="M395,655 H535 V667 H409 l-2,2 h-4 l-2,-2 H395 Z"/><text class="m" x="399.5" y="663.9">Hier wird die View zurückgeschaltet</text></g>

<g id="connectors"/>
</svg>
